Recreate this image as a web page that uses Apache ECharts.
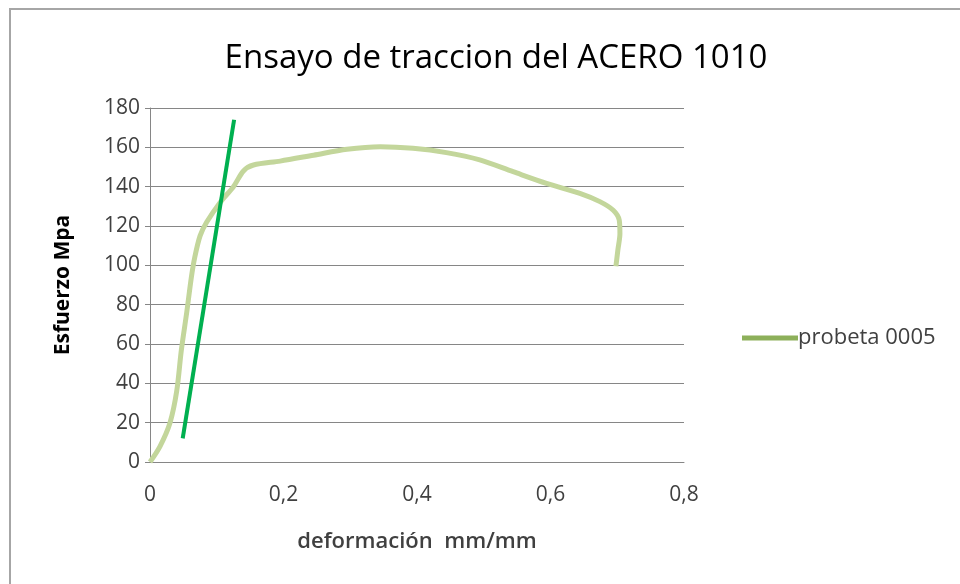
<!DOCTYPE html>
<html>
<head>
<meta charset="utf-8">
<script src="https://cdn.jsdelivr.net/npm/echarts@6/dist/echarts.min.js"></script>
<style>html,body{margin:0;padding:0;background:#fff}#c{width:960px;height:584px}</style>
</head>
<body>
<div id="c"></div>
<script>
var titleText = 'Ensayo de traccion del ACERO 1010';
var seriesName = 'probeta 0005';
var xName = 'deformación  mm/mm';
var yName = 'Esfuerzo Mpa';
var curveStrain = [0, 0.015, 0.030, 0.040, 0.047, 0.055, 0.062, 0.067, 0.075, 0.085, 0.105, 0.125, 0.140, 0.155, 0.195, 0.245, 0.295, 0.345, 0.394, 0.444, 0.494, 0.544, 0.594, 0.644, 0.674, 0.694, 0.703, 0.704, 0.701, 0.698];
var curveStress = [0, 8, 20, 36, 57, 76, 94, 104, 115, 122, 132, 140, 148, 151, 153, 156, 159, 160.3, 159.5, 157.3, 153.6, 147.6, 141.7, 136.6, 132.4, 128, 123, 116, 108, 99.5];
var elasticStrain = [0.049, 0.126];
var elasticStress = [12, 174];

var curve = curveStrain.map(function(x, i){ return [x, curveStress[i]]; });
var elastic = elasticStrain.map(function(x, i){ return [x, elasticStress[i]]; });

var chart = echarts.init(document.getElementById('c'), null, {renderer:'canvas'});
var font = 'Open Sans, Noto Sans, sans-serif';
chart.setOption({
  animation: false,
  backgroundColor: '#fff',
  graphic: [{type:'rect', shape:{x:10, y:9, width:1000, height:1000}, style:{fill:'none', stroke:'#a6a6a6', lineWidth:2}, z:-1}],
  title: {text: titleText, left: 491, top: 37, textAlign: 'center',
    textStyle:{fontFamily: font, fontSize: 33, fontWeight: 'normal', color:'#000'}},
  legend: {left: 737, top: 322, orient:'vertical', itemGap: 2,
    icon: 'rect', itemWidth: 56, itemHeight: 5,
    textStyle:{fontFamily: font, fontSize: 22, color:'#404040', padding:[0,0,0,-5]},
    data: [{name: seriesName, itemStyle:{color:'#8db05a'}}]},
  grid: {left:150, right:276, top:108, bottom:122},
  xAxis: {type:'value', min:0, max:0.8, interval:0.2, name: xName, nameLocation:'middle', nameGap: 69,
    nameTextStyle:{fontFamily: font, fontSize:22, fontWeight:600, color:'#404040'},
    axisLine:{show:true, lineStyle:{color:'#868686'}}, axisTick:{show:false},
    splitLine:{show:false},
    axisLabel:{fontFamily: font, fontSize:21, color:'#404040', margin:23,
      formatter:function(v){ return String(Math.round(v*10)/10).replace('.', ','); }}},
  yAxis: {type:'value', min:0, max:180, interval:20, name: yName, nameLocation:'middle', nameGap: 76,
    nameTextStyle:{fontFamily: font, fontSize:21, fontWeight:'bold', color:'#000'},
    axisLine:{show:true, lineStyle:{color:'#868686'}}, axisTick:{show:true, length:5, lineStyle:{color:'#868686'}},
    splitLine:{show:true, lineStyle:{color:'#868686', width:1}},
    axisLabel:{fontFamily: font, fontSize:21, color:'#404040', margin:10}},
  series: [
    {name: seriesName, type:'line', data: curve, smooth: 0.3, showSymbol:false, symbol:'none',
      lineStyle:{color:'#c3d69b', width:5}, itemStyle:{color:'#8db05a'}, z:2},
    {name: 'elastic', type:'line', data: elastic, showSymbol:false, symbol:'none',
      lineStyle:{color:'#00b050', width:4}, z:3}
  ]
});
</script>
</body>
</html>
